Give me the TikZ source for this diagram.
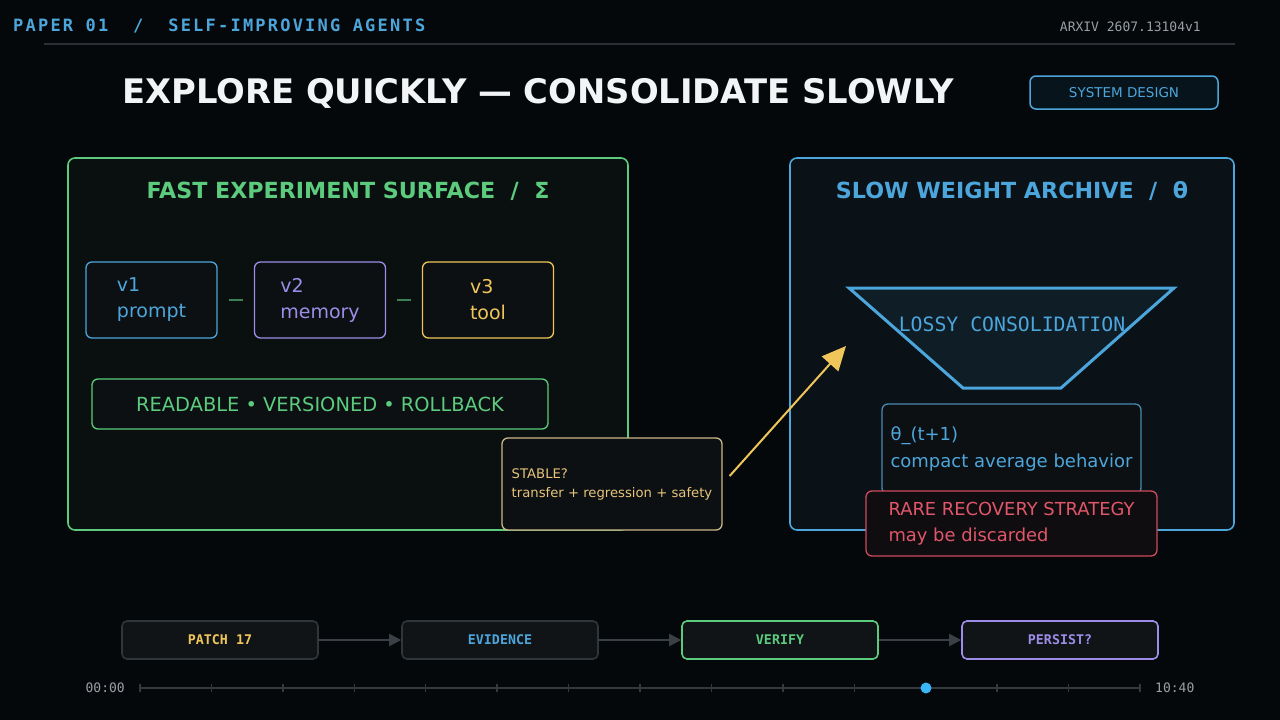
\documentclass[tikz,border=0pt]{standalone}
\usepackage{fontspec}
\setmainfont{DejaVu Sans}
\setmonofont{DejaVu Sans Mono}
\newfontfamily\hdrmono[LetterSpace=13]{DejaVu Sans Mono}
\usetikzlibrary{arrows.meta}
\definecolor{bg}{HTML}{05080A}
\definecolor{cblue}{HTML}{4DA6DB}
\definecolor{cgreen}{HTML}{5CCB7E}
\definecolor{cgold}{HTML}{F0C65A}
\definecolor{ctan}{HTML}{CDB689}
\definecolor{cstable}{HTML}{E6C47A}
\definecolor{cpurple}{HTML}{9D8DE8}
\definecolor{cred}{HTML}{E0566A}
\definecolor{credline}{HTML}{D04A5C}
\definecolor{cgray}{HTML}{9A9FA4}
\definecolor{hline}{HTML}{2C3034}
\definecolor{leftfill}{HTML}{0A0F0F}
\definecolor{rightfill}{HTML}{0A1117}
\definecolor{boxfill}{HTML}{0C1013}
\definecolor{redfill}{HTML}{100D10}
\definecolor{badgefill}{HTML}{08141C}
\definecolor{trapfill}{HTML}{0F1D27}
\definecolor{pipefill}{HTML}{101417}
\definecolor{pipeline}{HTML}{30363A}
\definecolor{pipearrowc}{HTML}{3A4045}
\definecolor{tlinec}{HTML}{34393D}
\definecolor{dotblue}{HTML}{38B6F5}
\definecolor{thetaline}{HTML}{4A8AB0}
\definecolor{vlinkc}{HTML}{3F7F55}
\definecolor{titlewhite}{HTML}{F2F4F5}
\tikzset{
  txt/.style={inner sep=0pt},
  panelbox/.style={draw, rounded corners=7pt, line width=1.6pt, inner sep=0pt},
  vbox/.style={draw, rounded corners=6pt, line width=1.3pt, fill=boxfill, minimum width=131pt, minimum height=76pt, align=left, inner sep=0pt, font=\fontsize{19}{26}\selectfont},
  notebox/.style={draw, rounded corners=6pt, line width=1.3pt, fill=boxfill, align=left, inner sep=0pt},
  pipebox/.style={draw, rounded corners=5pt, line width=1.6pt, fill=pipefill, minimum width=196pt, minimum height=38pt, inner sep=0pt, font=\ttfamily\bfseries\fontsize{13.3}{13.3}\selectfont},
  pipearrow/.style={draw=pipearrowc, line width=2pt, -{Triangle[length=12pt,width=12pt]}},
  vlink/.style={draw=vlinkc, line width=1.2pt, shorten >=11pt, shorten <=11pt},
  tline/.style={draw=tlinec, line width=1.5pt},
}
\begin{document}
\begin{tikzpicture}[x=1pt,y=-1pt]
\fill[bg] (0,0) rectangle (1280,720);
\useasboundingbox (0,0) rectangle (1280,720);

% header
\node[txt, anchor=base west, text=cblue, font=\hdrmono\bfseries\fontsize{17}{17}\selectfont] (hdr) at (13,31) {PAPER 01\ \ /\ \ SELF-IMPROVING AGENTS};
\node[txt, anchor=base east, text=cgray, font=\ttfamily\fontsize{13}{13}\selectfont] (arxiv) at (1201,31) {ARXIV 2607.13104v1};
\coordinate (hl1) at (44,44);
\coordinate (hl2) at (1235,44);
\draw[draw=hline, line width=1.5pt] (hl1) -- (hl2);

% title
\node[txt, anchor=base, text=titlewhite, font=\bfseries\fontsize{33.8}{33.8}\selectfont] (title) at (538,103) {EXPLORE QUICKLY — CONSOLIDATE SLOWLY};
\node[draw=cblue, fill=badgefill, rounded corners=6pt, line width=1.5pt, minimum width=188pt, minimum height=33pt, inner sep=0pt, text=cblue, font=\fontsize{13.5}{13.5}\selectfont] (sysd) at (1124,92.5) {SYSTEM DESIGN};

% left panel
\node[panelbox, draw=cgreen, fill=leftfill, minimum width=560pt, minimum height=372pt] (fast) at (348,344) {};
\node[txt, text=cgreen, font=\bfseries\fontsize{22.2}{22.2}\selectfont] (fasttitle) at (348,191) {FAST EXPERIMENT SURFACE\ \ /\ \ Σ};
\node[vbox, draw=cblue, text=cblue] (v1) at (151.5,300) {v1\\prompt};
\node[vbox, draw=cpurple, text=cpurple] (v2) at (320,300) {v2\\memory};
\node[vbox, draw=cgold, text=cgold] (v3) at (488,300) {v3\\tool};
\draw[vlink] (v1) -- (v2);
\draw[vlink] (v2) -- (v3);
\node[draw=cgreen, fill=boxfill, rounded corners=6pt, line width=1.3pt, minimum width=456pt, minimum height=50pt, inner sep=0pt, text=cgreen, font=\fontsize{19.4}{19.4}\selectfont] (readable) at (320,404) {READABLE • VERSIONED • ROLLBACK};

% right panel
\node[panelbox, draw=cblue, fill=rightfill, minimum width=444pt, minimum height=372pt] (slow) at (1012,344) {};
\node[txt, text=cblue, font=\bfseries\fontsize{22.2}{22.2}\selectfont] (slowtitle) at (1012,191) {SLOW WEIGHT ARCHIVE\ \ /\ \ θ};
\coordinate (tz1) at (849,288);
\coordinate (tz2) at (1174,288);
\coordinate (tz3) at (1061,388);
\coordinate (tz4) at (963,388);
\draw[draw=cblue, fill=trapfill, line width=3pt, line join=miter] (tz1) -- (tz2) -- (tz3) -- (tz4) -- cycle;
\node[txt, text=cblue, font=\ttfamily\fontsize{19.8}{19.8}\selectfont] (lossy) at (1012,324) {LOSSY CONSOLIDATION};
\node[notebox, draw=thetaline, text=cblue, minimum width=259pt, minimum height=90pt, font=\fontsize{18}{27}\selectfont] (theta) at (1011.5,449) {θ\_(t+1)\\compact average behavior};
\node[notebox, draw=credline, fill=redfill, text=cred, minimum width=291pt, minimum height=65pt, font=\fontsize{17.9}{26}\selectfont] (rare) at (1011.5,523.5) {RARE RECOVERY STRATEGY\\may be discarded};

% stable box
\node[notebox, draw=ctan, text=cstable, minimum width=220pt, minimum height=92pt, font=\fontsize{13.2}{19}\selectfont] (stable) at (612,484) {STABLE?\\transfer + regression + safety};
\coordinate (arrEnd) at (846,346);
\draw[draw=cgold, line width=2pt, -{Triangle[length=24pt,width=22pt]}] ([shift={(7,-8)}]stable.east) -- (arrEnd);

% pipeline
\node[pipebox, draw=pipeline, text=cgold] (p1) at (220,640) {PATCH 17};
\node[pipebox, draw=pipeline, text=cblue] (p2) at (500,640) {EVIDENCE};
\node[pipebox, draw=cgreen, text=cgreen] (p3) at (780,640) {VERIFY};
\node[pipebox, draw=cpurple, text=cpurple] (p4) at (1060,640) {PERSIST?};
\draw[pipearrow] (p1) -- (p2);
\draw[pipearrow] (p2) -- (p3);
\draw[pipearrow] (p3) -- (p4);

% timeline
\coordinate (t0) at (140,688);
\coordinate (t1) at (1140,688);
\draw[tline] (t0) -- (t1);
\foreach \i in {0,...,14} {
  \draw[tline] ({140+\i*71.4286},684) -- ({140+\i*71.4286},692);
}
\node[circle, fill=dotblue, minimum size=11pt, inner sep=0pt] (now) at (926,688) {};
\node[txt, anchor=east, text=cgray, font=\ttfamily\fontsize{13}{13}\selectfont] (tstart) at (125,688) {00:00};
\node[txt, anchor=west, text=cgray, font=\ttfamily\fontsize{13}{13}\selectfont] (tend) at (1155,688) {10:40};
\end{tikzpicture}
\end{document}
